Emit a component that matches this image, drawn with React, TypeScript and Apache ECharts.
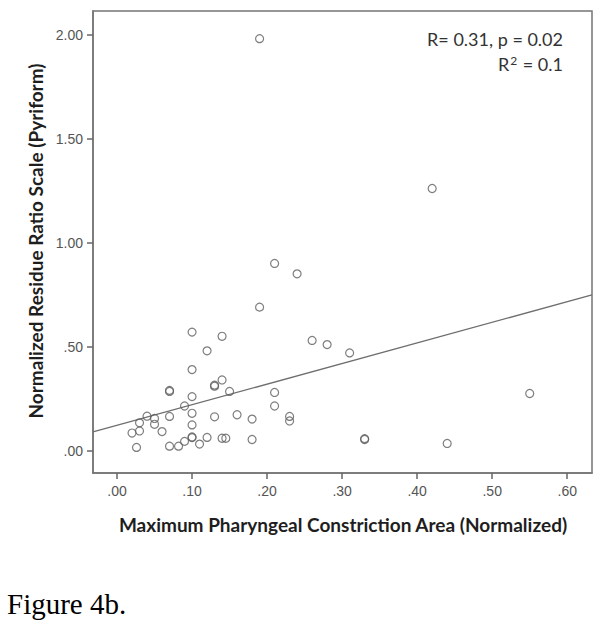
import React, { useEffect, useRef } from "react";
import * as echarts from "echarts";

// Scatter data: [Maximum Pharyngeal Constriction Area (normalized), Normalized Residue Ratio Scale (Pyriform)]
const constrictionArea: number[] = [
  0.19, 0.42, 0.21, 0.24, 0.19, 0.10, 0.14, 0.26, 0.28, 0.12, 0.31, 0.10, 0.14, 0.13, 0.13,
  0.07, 0.07, 0.15, 0.21, 0.55, 0.10, 0.09, 0.21, 0.10, 0.16, 0.04, 0.07, 0.13, 0.23, 0.05,
  0.18, 0.23, 0.03, 0.05, 0.10, 0.03, 0.06, 0.02, 0.10, 0.10, 0.12, 0.14, 0.145, 0.18, 0.33,
  0.33, 0.09, 0.44, 0.11, 0.07, 0.082, 0.026,
];
const residueRatio: number[] = [
  1.98, 1.26, 0.90, 0.85, 0.69, 0.57, 0.55, 0.53, 0.51, 0.48, 0.47, 0.39, 0.34, 0.31, 0.315,
  0.29, 0.285, 0.285, 0.28, 0.275, 0.26, 0.215, 0.215, 0.18, 0.173, 0.166, 0.165, 0.163, 0.165, 0.155,
  0.152, 0.143, 0.134, 0.127, 0.124, 0.095, 0.092, 0.085, 0.063, 0.066, 0.064, 0.06, 0.06, 0.054, 0.054,
  0.058, 0.045, 0.035, 0.032, 0.022, 0.022, 0.016,
];

// Fit line (intercept, slope)
const fitIntercept = 0.122;
const fitSlope = 0.99;

const xTicks: number[] = [0, 0.1, 0.2, 0.3, 0.4, 0.5, 0.6];
const yTicks: number[] = [0, 0.5, 1.0, 1.5, 2.0];
const xMin = -0.032;
const xMax = 0.633;
const yMin = -0.107;
const yMax = 2.113;

const annotationLine1 = "R= 0.31, p = 0.02";
const figureCaption = "Figure 4b.";
const xTitle = "Maximum Pharyngeal Constriction Area (Normalized)";
const yTitle = "Normalized Residue Ratio Scale (Pyriform)";

const fmt = (v: number) => v.toFixed(2).replace(/^0/, "");

export default function App() {
  const ref = useRef<HTMLDivElement>(null);
  useEffect(() => {
    if (!ref.current) return;
    const chart = echarts.init(ref.current, null, { renderer: "svg" });
    const points = constrictionArea.map((x, i) => [x, residueRatio[i]]);
    const fitLine = [
      [xMin, fitIntercept + fitSlope * xMin],
      [xMax, fitIntercept + fitSlope * xMax],
    ];
    const axisColor = "#747474";
    const labelStyle = {
      color: "#555555",
      fontFamily: "Liberation Sans, Arial, sans-serif",
      fontSize: 14,
    };
    chart.setOption({
      animation: false,
      backgroundColor: "#ffffff",
      grid: {
        left: 93,
        top: 11,
        right: 10,
        bottom: 159,
        show: true,
        borderColor: axisColor,
        borderWidth: 1.5,
        backgroundColor: "transparent",
      },
      xAxis: {
        type: "value",
        min: xMin,
        max: xMax,
        splitLine: { show: false },
        axisLine: { show: true, onZero: false, lineStyle: { color: axisColor, width: 1.5 } },
        axisTick: {
          show: true,
          length: 6,
          inside: false,
          customValues: xTicks,
          lineStyle: { color: "#666666", width: 1.5 },
        },
        axisLabel: {
          ...labelStyle,
          margin: 11,
          customValues: xTicks,
          formatter: (v: number) => fmt(v),
        },
      },
      yAxis: {
        type: "value",
        min: yMin,
        max: yMax,
        splitLine: { show: false },
        axisLine: { show: true, onZero: false, lineStyle: { color: axisColor, width: 1.5 } },
        axisTick: {
          show: true,
          length: 6,
          inside: false,
          customValues: yTicks,
          lineStyle: { color: "#666666", width: 1.5 },
        },
        axisLabel: {
          ...labelStyle,
          margin: 10,
          customValues: yTicks,
          formatter: (v: number) => fmt(v),
        },
      },
      series: [
        {
          type: "line",
          data: fitLine,
          symbol: "none",
          lineStyle: { color: "#6e6e6e", width: 1.3 },
          silent: true,
          z: 1,
        },
        {
          type: "scatter",
          data: points,
          symbol: "circle",
          symbolSize: 8,
          itemStyle: {
            color: "rgba(255,255,255,0)",
            borderColor: "#5e5e5e",
            borderWidth: 1.2,
          },
          z: 2,
        },
      ],
      graphic: [
        {
          type: "text",
          right: 39,
          top: 30,
          style: {
            text: annotationLine1,
            fill: "#333333",
            font: "18px Lato, 'Noto Sans', sans-serif",
            textAlign: "right",
          },
        },
        {
          type: "text",
          right: 39,
          top: 54,
          style: {
            text: "{a|R}{s|2}{a| = 0.1}",
            rich: {
              a: { fill: "#333333", fontFamily: "Lato, 'Noto Sans', sans-serif", fontSize: 18 },
              s: {
                fill: "#333333",
                fontFamily: "Lato, 'Noto Sans', sans-serif",
                fontSize: 12,
                verticalAlign: "top",
                padding: [0, 1, 8, 1],
              },
            },
            textAlign: "right",
          },
        },
        {
          type: "text",
          x: 343,
          y: 524,
          style: {
            text: xTitle,
            fill: "#1e1e1e",
            font: "bold 19px Lato, 'Noto Sans', sans-serif",
            textAlign: "center",
            textVerticalAlign: "middle",
          },
        },
        {
          type: "text",
          x: 35,
          y: 241,
          rotation: Math.PI / 2,
          style: {
            text: yTitle,
            fill: "#1e1e1e",
            font: "bold 19px Lato, 'Noto Sans', sans-serif",
            textAlign: "center",
            textVerticalAlign: "middle",
          },
        },
        {
          type: "text",
          left: 7,
          top: 589,
          style: {
            text: figureCaption,
            fill: "#000000",
            font: "29px 'Liberation Serif', 'Times New Roman', serif",
          },
        },
      ],
    });
    return () => chart.dispose();
  }, []);
  return (
    <div
      ref={ref}
      style={{ position: "fixed", left: 0, top: 0, width: 602, height: 632, background: "#fff" }}
    />
  );
}
